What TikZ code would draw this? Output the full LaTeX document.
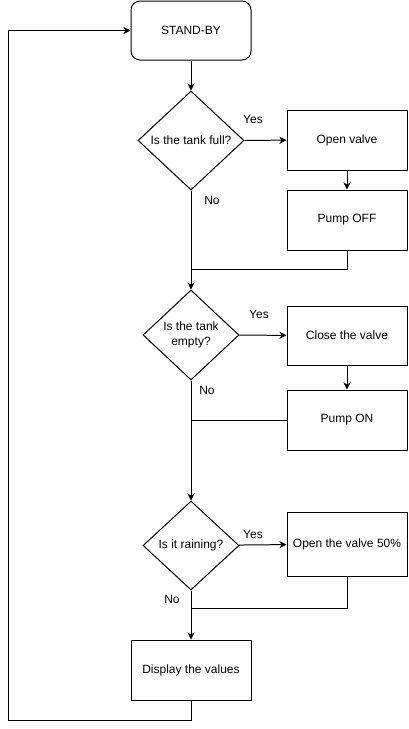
\documentclass[tikz,border=0pt]{standalone}
\usepackage{fontspec}
\setmainfont{Liberation Sans}
\usetikzlibrary{shapes.geometric,arrows.meta}
\begin{document}
\begin{tikzpicture}[x=1pt,y=-1pt,
  font=\fontsize{12}{15}\selectfont,
  line width=1pt,
  arr/.style={-{Stealth[length=7pt,width=7pt,inset=2pt]}},
  box/.style={draw, minimum width=120pt, minimum height=60pt, inner sep=0pt, align=center},
  dec/.style={draw, diamond, aspect=1, inner sep=0pt, align=center},
  lbl/.style={inner sep=0pt}]
\useasboundingbox (0,0) rectangle (408,729);
\node[box, rounded corners=9pt, minimum height=59pt] (sb) at (191,30.5) {STAND-BY};
\node[dec, minimum width=106pt, minimum height=99pt] (d1) at (191,140.5) {Is the tank full?};
\node[box] (ov) at (347,140) {Open valve};
\node[box] (poff) at (347,220) {Pump OFF};
\node[dec, minimum width=96pt, minimum height=90pt] (d2) at (191,335) {Is the tank\\empty?};
\node[box, minimum height=59pt] (cv) at (347,335.5) {Close the valve};
\node[box] (pon) at (347,420) {Pump ON};
\node[dec, minimum width=96pt, minimum height=89pt] (d3) at (191,545.5) {Is it raining?};
\node[box, minimum height=64pt] (ov50) at (347,544) {Open the valve 50\%};
\node[box] (disp) at (191,670) {Display the values};

\coordinate (m1) at (191,269);
\coordinate (m2) at (191,420);
\coordinate (m3) at (191,608);
\coordinate (c1) at (8,720);

\draw[arr] (sb) -- (d1);
\draw[arr] (d1) -- (ov);
\draw[arr] (ov) -- (poff);
\draw (poff.south) |- (m1);
\draw[arr] (d1.south) -- (d2.north);
\draw[arr] (d2) -- (cv);
\draw[arr] (cv) -- (pon);
\draw (pon.west) -- (m2);
\draw[arr] (d2.south) -- (d3.north);
\draw[arr] (d3) -- (ov50);
\draw (ov50.south) |- (m3);
\draw[arr] (d3.south) -- (disp.north);
\draw[arr] (disp.south) |- (c1) |- (sb.west);

\node[lbl] (y1) at (253,119) {Yes};
\node[lbl] (n1) at (212,200) {No};
\node[lbl] (y2) at (259,314) {Yes};
\node[lbl] (n2) at (207,390) {No};
\node[lbl] (y3) at (253,534) {Yes};
\node[lbl] (n3) at (172,599) {No};
\end{tikzpicture}
\end{document}
